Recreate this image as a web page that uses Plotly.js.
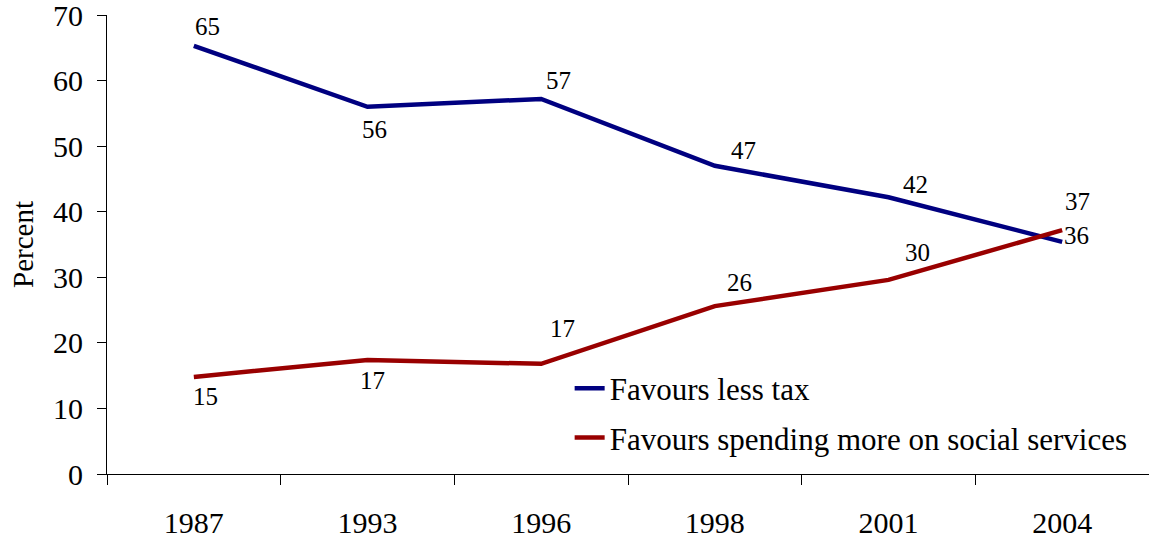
<!DOCTYPE html>
<html>
<head>
<meta charset="utf-8">
<script src="https://cdn.plot.ly/plotly-3.0.1.min.js"></script>
<style>html,body{margin:0;padding:0;background:#fff;}#chart{width:1149px;height:540px;}</style>
</head>
<body>
<div id="chart"></div>
<script>
const years = ["1987", "1993", "1996", "1998", "2001", "2004"];
const lessTax = [65.3, 56.0, 57.2, 47.0, 42.2, 35.4];
const moreSpending = [14.8, 17.4, 16.8, 25.6, 29.6, 37.2];
const lessTaxLabels = ["65", "56", "57", "47", "42", "36"];
const moreSpendingLabels = ["15", "17", "17", "26", "30", "37"];
const seriesNames = ["Favours less tax", "Favours spending more on social services"];

const blue = "#000080";
const red = "#990000";
const font = "Liberation Serif, Times New Roman, serif";

// label offsets (style): [dx, dy] in pixels
const blueOff = [[14,-19],[7,23],[17,-18],[29,-15],[27,-13],[14,-6]];
const redOff = [[12,20],[5,21],[21,-35],[25,-24],[29,-27],[15,-29]];

const traces = [
  {x: years, y: lessTax, type: "scatter", mode: "lines", name: seriesNames[0],
   line: {color: blue, width: 4.5}, legendgroup: "a", hoverinfo: "skip"},
  {x: years, y: moreSpending, type: "scatter", mode: "lines", name: seriesNames[1],
   line: {color: red, width: 4.5}, legendgroup: "b", hoverinfo: "skip"}
];

const annotations = [];
years.forEach((yr, i) => {
  annotations.push({x: i, y: lessTax[i], xref: "x", yref: "y", text: lessTaxLabels[i], showarrow: false,
    xshift: blueOff[i][0], yshift: -blueOff[i][1], font: {family: font, size: 25, color: "#000"}});
  annotations.push({x: i, y: moreSpending[i], xref: "x", yref: "y", text: moreSpendingLabels[i], showarrow: false,
    xshift: redOff[i][0], yshift: -redOff[i][1], font: {family: font, size: 25, color: "#000"}});
});

const layout = {
  width: 1149, height: 540,
  margin: {l: 107, r: 0, t: 15, b: 66},
  paper_bgcolor: "#fff", plot_bgcolor: "#fff",
  font: {family: font, color: "#000"},
  showlegend: true,
  legend: {x: 0.444, y: 0.245, xanchor: "left", yanchor: "top", bgcolor: "rgba(0,0,0,0)",
    borderwidth: 0,
    font: {family: font, size: 31, color: "#000"}, traceorder: "grouped", tracegroupgap: 6},
  xaxis: {type: "category", range: [-0.5, 5.5], showgrid: false, zeroline: false,
    showline: true, linecolor: "#000", linewidth: 1,
    ticks: "outside", tickson: "boundaries", ticklen: 10, tickcolor: "#000",
    ticklabelstandoff: 22,
    tickfont: {family: font, size: 30, color: "#000"}, fixedrange: true},
  yaxis: {range: [0, 70], dtick: 10, showgrid: false, zeroline: false, showline: true,
    linecolor: "#000", linewidth: 1, ticks: "outside", ticklen: 9, tickcolor: "#000",
    ticklabelstandoff: 8, ticklabeloverflow: "allow",
    tickfont: {family: font, size: 30, color: "#000"},
    title: {text: "Percent", font: {family: font, size: 29, color: "#000"}, standoff: 10}},
  annotations: annotations
};

Plotly.newPlot("chart", traces, layout, {displayModeBar: false, staticPlot: true});
</script>
</body>
</html>
